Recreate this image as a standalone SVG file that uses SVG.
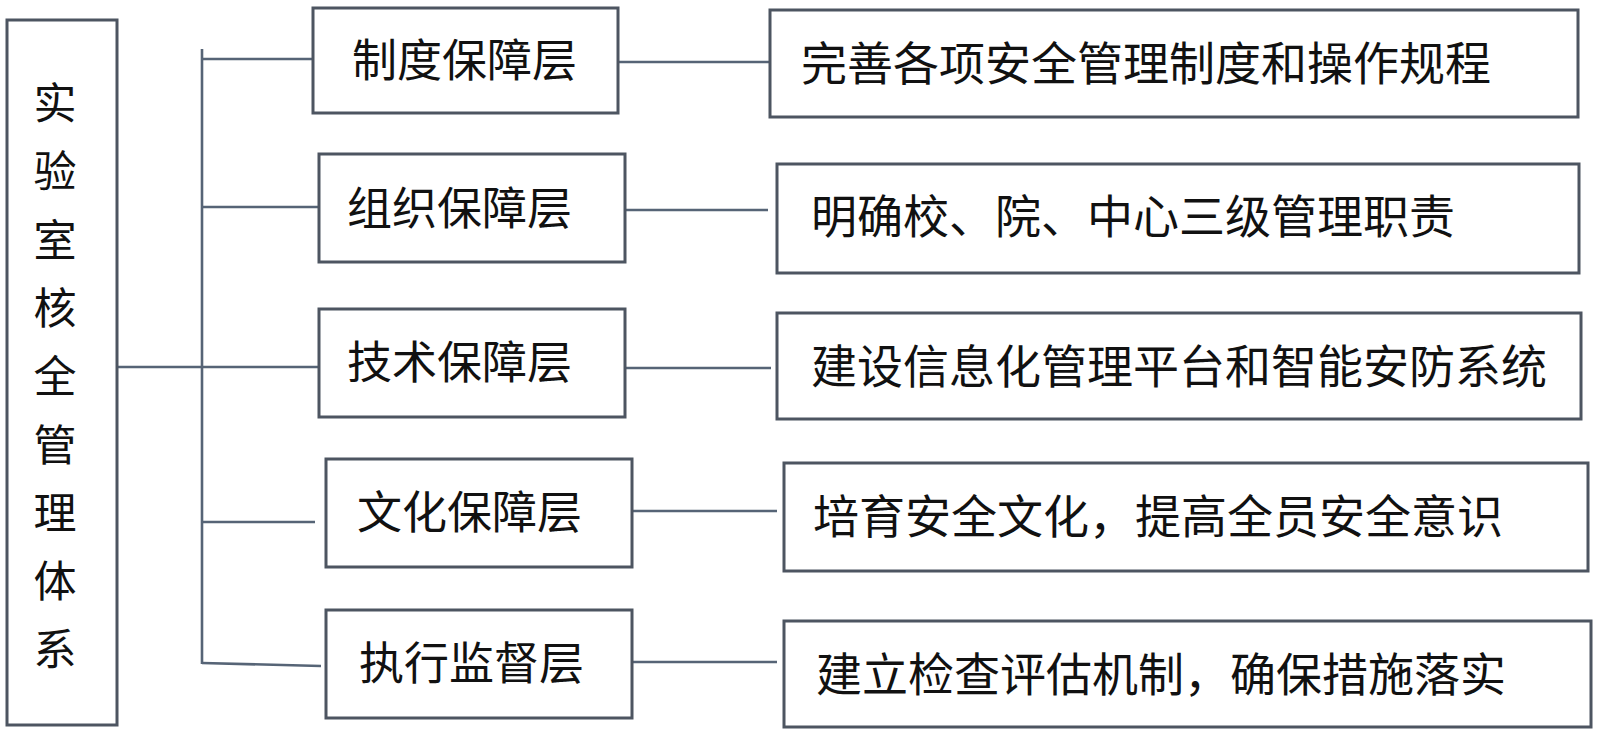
<svg xmlns="http://www.w3.org/2000/svg" width="1600" height="730" viewBox="0 0 1600 730">
<style>
.box{fill:#ffffff;stroke:#4d5561;stroke-width:3}
.ln{fill:none;stroke:#566476;stroke-width:2.6;stroke-linecap:butt}
.t{font-family:"Noto Sans CJK SC","Noto Sans CJK TC",sans-serif;fill:#111111}
.lt{font-size:45px}
.rt{font-size:46px}
.vt{font-size:43px;text-anchor:middle}
</style>
<rect width="1600" height="730" fill="#ffffff"/>
<g id="connectors">
<line class="ln" x1="117" y1="367" x2="319" y2="367"/>
<line class="ln" x1="202" y1="49" x2="202" y2="664"/>
<line class="ln" x1="202" y1="59" x2="313" y2="59"/>
<line class="ln" x1="202" y1="207" x2="319" y2="207"/>
<line class="ln" x1="202" y1="522" x2="315" y2="522"/>
<line class="ln" x1="202" y1="663" x2="321" y2="666"/>
<line class="ln" x1="618" y1="62" x2="770" y2="62"/>
<line class="ln" x1="622" y1="210" x2="768" y2="210"/>
<line class="ln" x1="622" y1="368" x2="771" y2="368"/>
<line class="ln" x1="632" y1="511" x2="777" y2="511"/>
<line class="ln" x1="632" y1="662" x2="777" y2="662"/>
</g>
<g id="root">
<rect class="box" x="7" y="20" width="110" height="705"/>
<text class="t vt" x="55"><tspan x="55" y="119">实</tspan><tspan x="55" y="187">验</tspan><tspan x="55" y="256">室</tspan><tspan x="55" y="324">核</tspan><tspan x="55" y="392">全</tspan><tspan x="55" y="461">管</tspan><tspan x="55" y="529">理</tspan><tspan x="55" y="597">体</tspan><tspan x="55" y="665">系</tspan></text>
</g>
<g id="layer1">
<rect class="box" x="313" y="8" width="305" height="105"/>
<text class="t lt" x="352" y="77">制度保障层</text>
</g>
<g id="layer2">
<rect class="box" x="319" y="154" width="306" height="108"/>
<text class="t lt" x="347" y="225">组织保障层</text>
</g>
<g id="layer3">
<rect class="box" x="319" y="309" width="306" height="108"/>
<text class="t lt" x="347" y="379">技术保障层</text>
</g>
<g id="layer4">
<rect class="box" x="326" y="459" width="306" height="108"/>
<text class="t lt" x="357" y="529">文化保障层</text>
</g>
<g id="layer5">
<rect class="box" x="326" y="610" width="306" height="108"/>
<text class="t lt" x="359" y="680">执行监督层</text>
</g>
<g id="desc1">
<rect class="box" x="770" y="10" width="808" height="107"/>
<text class="t rt" x="801" y="80">完善各项安全管理制度和操作规程</text>
</g>
<g id="desc2">
<rect class="box" x="777" y="164" width="802" height="109"/>
<text class="t rt" x="811" y="233">明确校、院、中心三级管理职责</text>
</g>
<g id="desc3">
<rect class="box" x="777" y="313" width="804" height="106"/>
<text class="t rt" x="811" y="383">建设信息化管理平台和智能安防系统</text>
</g>
<g id="desc4">
<rect class="box" x="784" y="463" width="804" height="108"/>
<text class="t rt" x="813" y="533">培育安全文化，提高全员安全意识</text>
</g>
<g id="desc5">
<rect class="box" x="784" y="621" width="807" height="106"/>
<text class="t rt" x="816" y="691">建立检查评估机制，确保措施落实</text>
</g>
</svg>
